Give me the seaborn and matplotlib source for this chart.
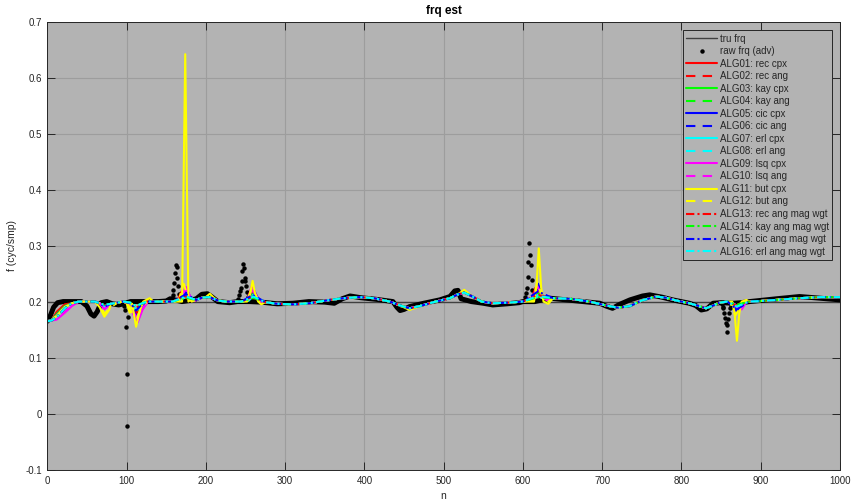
import numpy as np
import matplotlib
matplotlib.use("Agg")
import matplotlib.pyplot as plt
from matplotlib.ticker import FuncFormatter
import seaborn as sns

sns.set_style("ticks")
plt.rcParams["font.family"] = ["Liberation Sans", "DejaVu Sans"]
plt.rcParams["axes.unicode_minus"] = False

# ---------------------------------------------------------------- data
# true frequency (cycles / sample)
tru_n = [0, 1000]
tru_f = [0.2, 0.2]

# raw (advanced) frequency: smooth body of the trace
raw_n = [0, 3, 8, 13, 20, 43, 50, 55, 59, 63, 68, 75, 82, 90, 96,
         105, 125, 140, 150, 155,
         170, 180, 188, 195, 202, 208, 215, 230, 240,
         255, 270, 290, 310, 330, 350, 362, 372, 382, 395, 415, 436, 441, 445,
         450, 457, 475, 495, 508, 514, 518, 522, 535, 550, 562, 580, 595, 600,
         615, 634, 655, 676, 697, 705, 713, 722, 735, 751, 760, 775, 789, 810,
         818, 825, 832, 840, 850,
         866, 875, 886, 920, 949, 975, 1000]
raw_f = [0.165, 0.172, 0.19, 0.198, 0.2, 0.2, 0.192, 0.178, 0.174, 0.182, 0.198, 0.2, 0.196, 0.194, 0.196,
         0.2, 0.2, 0.2, 0.201, 0.205,
         0.2, 0.202, 0.205, 0.213, 0.214, 0.208, 0.2, 0.198, 0.2,
         0.2, 0.199, 0.196, 0.197, 0.2, 0.199, 0.197, 0.205, 0.21, 0.207, 0.204, 0.2, 0.19, 0.184,
         0.186, 0.191, 0.197, 0.203, 0.209, 0.219, 0.22, 0.205, 0.2, 0.197, 0.194, 0.196, 0.198, 0.2,
         0.2, 0.206, 0.203, 0.2, 0.197, 0.192, 0.188, 0.195, 0.203, 0.21, 0.212, 0.208, 0.203, 0.197,
         0.193, 0.185, 0.187, 0.197, 0.198,
         0.197, 0.198, 0.2, 0.205, 0.209, 0.206, 0.203]

# raw frequency samples around the phase jumps
dot_n = [97, 98, 99, 100, 101, 102, 103,
         156, 157, 158, 159, 160, 161, 162, 163, 164, 165, 166, 167,
         241, 242, 243, 244, 245, 246, 247, 248, 249, 250, 251, 252, 253,
         603, 604, 605, 606, 607, 608, 609, 610, 611, 612, 613,
         851, 852, 853, 854, 855, 856, 857, 858, 859, 860, 861, 862]
dot_f = [0.192, 0.185, 0.154, -0.022, 0.070, 0.172, 0.19,
         0.203, 0.207, 0.212, 0.22, 0.233, 0.251, 0.266, 0.261, 0.243, 0.227, 0.214, 0.205,
         0.205, 0.212, 0.218, 0.225, 0.237, 0.255, 0.267, 0.26, 0.243, 0.236, 0.227, 0.217, 0.208,
         0.208, 0.215, 0.225, 0.244, 0.27, 0.305, 0.283, 0.265, 0.238, 0.22, 0.208,
         0.195, 0.19, 0.188, 0.179, 0.17, 0.161, 0.146, 0.158, 0.169, 0.179, 0.188, 0.192]

# common track shared by all estimators
est_n = [0, 5, 12, 22, 31, 40, 60, 66, 72, 80, 88, 96, 138, 158, 188, 195, 205, 215, 225, 245,
         275, 290, 310, 331, 352, 373, 394, 412, 432, 445, 457, 470, 490, 508, 518, 526, 535, 548,
         562, 580, 600, 638, 660, 684, 705, 720, 735, 750, 768, 780, 793, 810, 822, 831, 840, 848,
         858, 885, 900, 920, 949, 975, 1000]
est_f = [0.165, 0.166, 0.172, 0.188, 0.197, 0.2, 0.2, 0.197, 0.193, 0.196, 0.198, 0.2, 0.2, 0.2,
         0.203, 0.207, 0.208, 0.202, 0.2, 0.2,
         0.199, 0.196, 0.195, 0.197, 0.202, 0.206, 0.208, 0.206, 0.2, 0.193, 0.188, 0.192, 0.2, 0.206,
         0.213, 0.216, 0.21, 0.2,
         0.197, 0.198, 0.2, 0.206, 0.205, 0.2, 0.193, 0.189, 0.192, 0.202, 0.209, 0.207, 0.202, 0.197,
         0.192, 0.188, 0.193, 0.198,
         0.2, 0.2, 0.201, 0.203, 0.206, 0.208, 0.208]

# estimator-specific transients (n, f)
alg_events = {
    "ALG01: rec cpx": [(12, 0.182), (22, 0.195), (72, 0.192),
                       (102, 0.196), (108, 0.182), (112, 0.178), (118, 0.192), (124, 0.2),
                       (164, 0.202), (170, 0.22), (176, 0.206), (182, 0.201),
                       (252, 0.203), (257, 0.222), (263, 0.206), (268, 0.2),
                       (611, 0.205), (616, 0.225), (622, 0.208), (628, 0.204),
                       (862, 0.198), (868, 0.19), (874, 0.196), (880, 0.2)],
    "ALG02: rec ang": [(12, 0.18), (22, 0.194), (72, 0.192),
                       (102, 0.197), (108, 0.185), (112, 0.182), (118, 0.194), (124, 0.2),
                       (165, 0.202), (171, 0.217), (177, 0.205), (182, 0.201),
                       (253, 0.203), (258, 0.218), (264, 0.205), (269, 0.2),
                       (612, 0.205), (617, 0.222), (623, 0.207), (629, 0.204),
                       (862, 0.199), (868, 0.192), (874, 0.197), (880, 0.2)],
    "ALG03: kay cpx": [(12, 0.178), (22, 0.192), (72, 0.191),
                       (104, 0.197), (110, 0.188), (114, 0.185), (120, 0.195), (126, 0.2),
                       (167, 0.202), (174, 0.213), (180, 0.203),
                       (254, 0.202), (260, 0.215), (266, 0.203),
                       (613, 0.204), (619, 0.215), (626, 0.205),
                       (863, 0.198), (869, 0.192), (876, 0.198)],
    "ALG04: kay ang": [(12, 0.177), (22, 0.191), (72, 0.192),
                       (104, 0.198), (110, 0.19), (114, 0.188), (120, 0.196), (126, 0.2),
                       (167, 0.202), (174, 0.211), (180, 0.203),
                       (254, 0.202), (260, 0.212), (266, 0.203),
                       (613, 0.204), (619, 0.212), (626, 0.205),
                       (863, 0.198), (869, 0.194), (876, 0.198)],
    "ALG05: cic cpx": [(12, 0.176), (22, 0.19), (72, 0.188),
                       (103, 0.196), (110, 0.175), (114, 0.165), (119, 0.185), (126, 0.2),
                       (166, 0.202), (176, 0.222), (181, 0.206), (185, 0.201),
                       (253, 0.202), (259, 0.225), (265, 0.208), (270, 0.2),
                       (613, 0.203), (619, 0.232), (625, 0.21), (631, 0.203),
                       (862, 0.198), (870, 0.182), (876, 0.193), (881, 0.2)],
    "ALG06: cic ang": [(12, 0.176), (22, 0.19), (72, 0.19),
                       (103, 0.197), (110, 0.18), (114, 0.172), (119, 0.19), (126, 0.2),
                       (166, 0.202), (176, 0.217), (181, 0.205), (185, 0.201),
                       (253, 0.202), (259, 0.22), (265, 0.206), (270, 0.2),
                       (613, 0.203), (619, 0.225), (625, 0.208), (631, 0.203),
                       (862, 0.198), (870, 0.186), (876, 0.195), (881, 0.2)],
    "ALG07: erl cpx": [(12, 0.174), (22, 0.189), (72, 0.19),
                       (104, 0.197), (110, 0.188), (114, 0.186), (120, 0.195), (126, 0.2),
                       (168, 0.202), (175, 0.21), (181, 0.203),
                       (254, 0.202), (260, 0.212), (266, 0.203),
                       (613, 0.204), (619, 0.212), (626, 0.205),
                       (863, 0.198), (870, 0.192), (877, 0.198)],
    "ALG08: erl ang": [(12, 0.174), (22, 0.189), (72, 0.191),
                       (104, 0.198), (110, 0.19), (114, 0.188), (120, 0.196), (126, 0.2),
                       (168, 0.202), (175, 0.209), (181, 0.203),
                       (254, 0.202), (260, 0.21), (266, 0.203),
                       (613, 0.204), (619, 0.21), (626, 0.205),
                       (863, 0.198), (870, 0.193), (877, 0.198)],
    "ALG09: lsq cpx": [(12, 0.168), (22, 0.18), (31, 0.192), (72, 0.186),
                       (103, 0.195), (110, 0.172), (114, 0.163), (120, 0.185), (127, 0.2),
                       (165, 0.202), (175, 0.226), (180, 0.21), (185, 0.201),
                       (253, 0.203), (258, 0.228), (264, 0.21), (270, 0.2),
                       (612, 0.203), (618, 0.228), (624, 0.212), (630, 0.203),
                       (864, 0.198), (870, 0.19), (876, 0.186), (882, 0.2)],
    "ALG10: lsq ang": [(12, 0.169), (22, 0.182), (31, 0.193), (72, 0.188),
                       (103, 0.196), (110, 0.178), (114, 0.17), (120, 0.188), (127, 0.2),
                       (165, 0.202), (175, 0.222), (180, 0.208), (185, 0.201),
                       (253, 0.203), (258, 0.222), (264, 0.207), (270, 0.2),
                       (612, 0.203), (618, 0.222), (624, 0.209), (630, 0.203),
                       (864, 0.198), (870, 0.192), (876, 0.189), (882, 0.2)],
    "ALG11: but cpx": [(12, 0.175), (22, 0.19), (66, 0.19), (72, 0.173), (78, 0.185), (85, 0.195),
                       (100, 0.197), (104, 0.18), (107, 0.196), (112, 0.155), (117, 0.185),
                       (121, 0.2), (129, 0.206), (134, 0.2),
                       (170, 0.2), (174, 0.642), (178, 0.2), (182, 0.205),
                       (200, 0.208), (205, 0.214), (210, 0.207),
                       (252, 0.2), (256, 0.215), (259, 0.237), (262, 0.215), (266, 0.2), (270, 0.195),
                       (457, 0.185), (526, 0.221),
                       (614, 0.2), (617, 0.225), (620, 0.295), (623, 0.225), (626, 0.2), (632, 0.196),
                       (864, 0.2), (867, 0.18), (870, 0.13), (873, 0.18), (876, 0.2), (882, 0.203)],
    "ALG12: but ang": [(12, 0.176), (22, 0.19), (72, 0.178), (80, 0.19),
                       (102, 0.195), (108, 0.175), (113, 0.17), (119, 0.19), (126, 0.2),
                       (166, 0.203), (172, 0.232), (177, 0.21), (182, 0.2),
                       (253, 0.203), (258, 0.225), (264, 0.208), (270, 0.197),
                       (613, 0.203), (618, 0.235), (624, 0.21), (630, 0.198),
                       (862, 0.197), (868, 0.175), (874, 0.19), (880, 0.2)],
    "ALG13: rec ang mag wgt": [(72, 0.193), (105, 0.197), (112, 0.188), (118, 0.195), (126, 0.2),
                               (172, 0.21), (259, 0.209), (618, 0.212), (869, 0.193)],
    "ALG14: kay ang mag wgt": [(72, 0.194), (105, 0.198), (112, 0.191), (118, 0.196), (126, 0.2),
                               (174, 0.207), (260, 0.207), (619, 0.208), (870, 0.194)],
    "ALG15: cic ang mag wgt": [(72, 0.191), (105, 0.197), (112, 0.184), (118, 0.193), (126, 0.2),
                               (175, 0.213), (259, 0.212), (619, 0.218), (870, 0.186)],
    "ALG16: erl ang mag wgt": [(72, 0.194), (105, 0.198), (112, 0.192), (118, 0.196), (126, 0.2),
                               (175, 0.209), (260, 0.209), (619, 0.21), (870, 0.191)],
}

alg_colors = ["#ff0000", "#ff0000", "#00ff00", "#00ff00", "#0000ff", "#0000ff",
              "#00ffff", "#00ffff", "#ff00ff", "#ff00ff", "#ffff00", "#ffff00",
              "#ff0000", "#00ff00", "#0000ff", "#00ffff"]
DASH = (0, (4.5, 3.5))
DASHDOT = (0, (4, 1.5, 1, 1.5))
alg_styles = ["-", DASH] * 6 + [DASHDOT] * 4


def track(events):
    pts = dict(zip(est_n, est_f))
    pts.update(dict(events))
    n = sorted(pts)
    return n, [pts[k] for k in n]


# ---------------------------------------------------------------- figure
BG = "#b3b3b3"
INK = "#262626"
fig = plt.figure(figsize=(8.53, 5.04), dpi=100)
ax = fig.add_axes([47.3 / 853, 1 - 469.5 / 504, (840 - 47.3) / 853, (469.5 - 21.7) / 504])
ax.set_facecolor(BG)

handles = []
sns.lineplot(x=tru_n, y=tru_f, ax=ax, color="#404040", lw=1.0, label="tru frq")
handles.append(ax.lines[-1])
sns.lineplot(x=raw_n, y=raw_f, ax=ax, color="black", lw=3.6,
             solid_joinstyle="round", solid_capstyle="round")
sns.lineplot(x=dot_n, y=dot_f, ax=ax, color="black", linestyle="", marker="o",
             markersize=3.2, markeredgewidth=0, label="raw frq (adv)")
handles.append(ax.lines[-1])

for (name, events), col, ls in zip(alg_events.items(), alg_colors, alg_styles):
    n, f = track(events)
    sns.lineplot(x=n, y=f, ax=ax, color=col, linestyle=ls, lw=1.5, label=name)
    handles.append(ax.lines[-1])

ax.set_xlim(0, 1000)
ax.set_ylim(-0.1, 0.7)
ax.set_xticks(np.arange(0, 1001, 100))
ax.set_yticks(np.round(np.arange(-0.1, 0.71, 0.1), 1))
ax.yaxis.set_major_formatter(FuncFormatter(lambda v, p: f"{v:g}"))
ax.grid(True, color="#9d9d9d", lw=0.8)
ax.set_axisbelow(True)

ax.tick_params(axis="both", direction="in", top=True, right=True, length=5.5,
               width=0.7, color=INK, labelcolor=INK, labelsize=7)
ax.tick_params(axis="x", pad=5)
ax.tick_params(axis="y", pad=3.5)
for sp in ax.spines.values():
    sp.set_color(INK)
    sp.set_linewidth(0.7)

ax.set_title("frq est", fontsize=8.5, fontweight="bold", color="black", pad=5.5)
ax.set_xlabel("n", fontsize=7.5, color=INK, labelpad=3)
ax.set_ylabel("f (cyc/smp)", fontsize=7.5, color=INK, labelpad=6)

leg = ax.legend(handles=handles, labels=[h.get_label() for h in handles],
                loc="upper right", bbox_to_anchor=(0.990, 0.981), borderaxespad=0,
                fontsize=7, frameon=True, fancybox=False, facecolor=BG, edgecolor=INK,
                framealpha=1, handlelength=3.1, handletextpad=0.3, labelspacing=0.26,
                borderpad=0.35)
leg.get_frame().set_linewidth(0.7)

fig.savefig("out.png", dpi=100)
